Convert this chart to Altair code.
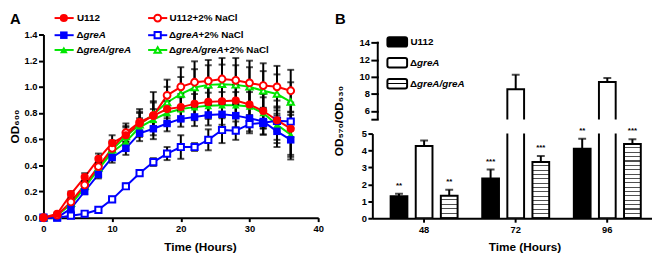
import altair as alt
import pandas as pd

FONT = "Liberation Sans"
RED, BLUE, GREEN = "#ff0000", "#0000ff", "#00e600"

# ---------------- Panel A: growth curves ----------------
hours = [0, 2, 4, 6, 8, 10, 12, 14, 16, 18, 20, 22, 24, 26, 28, 30, 32, 34, 36]

u112 = [0.00, 0.03, 0.18, 0.31, 0.45, 0.57, 0.63, 0.72, 0.78, 0.83, 0.845, 0.87, 0.885, 0.89, 0.895, 0.865, 0.815, 0.745, 0.68]
u112_err = [0.00, 0.01, 0.02, 0.03, 0.04, 0.06, 0.07, 0.09, 0.10, 0.10, 0.10, 0.11, 0.11, 0.11, 0.12, 0.12, 0.13, 0.15, 0.20]
u112_nacl = [0.00, 0.02, 0.12, 0.25, 0.39, 0.53, 0.65, 0.73, 0.78, 0.935, 1.00, 1.035, 1.045, 1.06, 1.05, 1.03, 1.01, 1.00, 0.97]
u112_nacl_err = [0.00, 0.01, 0.02, 0.03, 0.04, 0.06, 0.07, 0.10, 0.18, 0.12, 0.15, 0.16, 0.16, 0.16, 0.17, 0.17, 0.17, 0.16, 0.16]
grea = [0.00, 0.00, 0.07, 0.20, 0.33, 0.46, 0.53, 0.645, 0.68, 0.72, 0.755, 0.77, 0.785, 0.79, 0.78, 0.76, 0.735, 0.66, 0.595]
grea_err = [0.00, 0.00, 0.02, 0.02, 0.03, 0.04, 0.05, 0.06, 0.05, 0.06, 0.06, 0.07, 0.08, 0.08, 0.09, 0.10, 0.10, 0.12, 0.15]
grea_nacl = [0.00, 0.00, 0.015, 0.03, 0.06, 0.14, 0.24, 0.34, 0.425, 0.49, 0.54, 0.54, 0.595, 0.67, 0.665, 0.715, 0.725, 0.74, 0.735]
grea_nacl_err = [0.00, 0.00, 0.01, 0.01, 0.01, 0.02, 0.02, 0.02, 0.03, 0.05, 0.09, 0.03, 0.08, 0.10, 0.07, 0.07, 0.09, 0.08, 0.05]
comp = [0.00, 0.02, 0.10, 0.23, 0.37, 0.50, 0.58, 0.69, 0.75, 0.80, 0.83, 0.845, 0.855, 0.86, 0.86, 0.85, 0.80, 0.71, 0.635]
comp_err = [0.00, 0.01, 0.02, 0.03, 0.04, 0.05, 0.06, 0.07, 0.08, 0.09, 0.09, 0.10, 0.10, 0.10, 0.10, 0.11, 0.12, 0.14, 0.17]
comp_nacl = [0.00, 0.02, 0.11, 0.24, 0.38, 0.52, 0.62, 0.71, 0.79, 0.88, 0.945, 0.995, 1.015, 1.02, 1.015, 1.00, 0.97, 0.945, 0.885]
comp_nacl_err = [0.00, 0.01, 0.02, 0.03, 0.04, 0.06, 0.07, 0.09, 0.10, 0.12, 0.13, 0.14, 0.15, 0.15, 0.15, 0.15, 0.15, 0.15, 0.15]

series_a = [
    ("U112", u112, u112_err),
    ("U112+2% NaCl", u112_nacl, u112_nacl_err),
    ("ΔgreA", grea, grea_err),
    ("ΔgreA+2% NaCl", grea_nacl, grea_nacl_err),
    ("ΔgreA/greA", comp, comp_err),
    ("ΔgreA/greA+2% NaCl", comp_nacl, comp_nacl_err),
]

rows = []
for name, vals, errs in series_a:
    for t, v, e in zip(hours, vals, errs):
        rows.append({"series": name, "t": t, "od": v, "err": e, "lo": v - e, "hi": v + e})
dfA = pd.DataFrame(rows)

STYLE = {
    "U112": (RED, "circle", True),
    "U112+2% NaCl": (RED, "circle", False),
    "ΔgreA": (BLUE, "square", True),
    "ΔgreA+2% NaCl": (BLUE, "square", False),
    "ΔgreA/greA": (GREEN, "triangle-up", True),
    "ΔgreA/greA+2% NaCl": (GREEN, "triangle-up", False),
}
SIZE = {"circle": (68, 48), "square": (58, 40), "triangle-up": (62, 42)}


def point_props(name):
    color, shape, filled = STYLE[name]
    fs, osz = SIZE[shape]
    if filled:
        return dict(shape=shape, filled=True, color=color, size=fs, opacity=1)
    return dict(shape=shape, filled=True, fill="white", stroke=color,
                strokeWidth=2, size=osz, opacity=1)


WA, HA = 279, 186
xA_scale = alt.Scale(domain=[0, 40], nice=False, zero=False)
yA_scale = alt.Scale(domain=[0, 1.4], nice=False)
axis_xA = alt.Axis(values=[0, 10, 20, 30, 40], title="Time (Hours)", tickSize=4,
                   labelPadding=2, labelFlush=False,
                   titleX=159, titleY=29, titleBaseline="middle")
axis_yA = alt.Axis(values=[0, 0.2, 0.4, 0.6, 0.8, 1.0, 1.2, 1.4], format=".1f",
                   title="OD₆₀₀", titlePadding=3, tickSize=5, labelPadding=1.5,
                   labelFlush=False)


def XA(f):
    return alt.X(f, type="quantitative", scale=xA_scale, axis=axis_xA)


def YA(f):
    return alt.Y(f, type="quantitative", scale=yA_scale, axis=axis_yA)


draw_order = ["ΔgreA/greA+2% NaCl", "ΔgreA/greA", "ΔgreA+2% NaCl", "ΔgreA",
              "U112+2% NaCl", "U112"]
baseA = alt.Chart(dfA)
layersA = []
for name in draw_order:
    layersA.append(baseA.transform_filter(alt.datum.series == name)
                   .mark_line(color=STYLE[name][0], strokeWidth=2)
                   .encode(x=XA("t"), y=YA("od")))
errA = baseA.transform_filter(alt.datum.err > 0)
layersA.append(errA.mark_rule(color="black", strokeWidth=2)
               .encode(x=XA("t"), y=YA("lo"), y2="hi:Q"))
layersA.append(errA.mark_tick(orient="horizontal", size=7, thickness=2, color="black")
               .encode(x=XA("t"), y=YA("hi")))
layersA.append(errA.mark_tick(orient="horizontal", size=7, thickness=2, color="black")
               .encode(x=XA("t"), y=YA("lo")))
for name in draw_order:
    layersA.append(baseA.transform_filter(alt.datum.series == name)
                   .mark_point(**point_props(name))
                   .encode(x=XA("t"), y=YA("od")))

one = pd.DataFrame({"k": [0]})
CHARW = {"g": 0.611, "r": 0.389, "e": 0.556, "A": 0.722, "/": 0.278}
LEG_FS = 10
DELTA_W = 6.7

LABEL_PARTS = {
    "U112": [("U112", "normal")],
    "U112+2% NaCl": [("U112+2% NaCl", "normal")],
    "ΔgreA": [("Δ", "normal"), ("greA", "italic")],
    "ΔgreA+2% NaCl": [("Δ", "normal"), ("greA", "italic"), ("+2% NaCl", "normal")],
    "ΔgreA/greA": [("Δ", "normal"), ("greA/greA", "italic")],
    "ΔgreA/greA+2% NaCl": [("Δ", "normal"), ("greA/greA", "italic"), ("+2% NaCl", "normal")],
}


def label_layers(name, x0, y0):
    out = []
    cursor = x0
    for txt, style in LABEL_PARTS[name]:
        if txt == "Δ":
            cursor = x0 + DELTA_W
            out.append(alt.Chart(one).mark_text(
                align="right", baseline="middle", font=FONT, fontSize=LEG_FS,
                fontWeight="bold", fontStyle=style, color="black")
                .encode(x=alt.value(cursor), y=alt.value(y0), text=alt.value(txt)))
            continue
        out.append(alt.Chart(one).mark_text(
            align="left", baseline="middle", font=FONT, fontSize=LEG_FS,
            fontWeight="bold", fontStyle=style, color="black")
            .encode(x=alt.value(cursor), y=alt.value(y0), text=alt.value(txt)))
        cursor += sum(CHARW.get(c, 0.6) for c in txt) * LEG_FS
    return out


leg_rows = [-16.7, 0.7, 15.7]
leg_cols = [(11.3, 30.7, 20.7, 34.0), (106.3, 125.7, 116.0, 128.0)]
leg_items = [["U112", "ΔgreA", "ΔgreA/greA"],
             ["U112+2% NaCl", "ΔgreA+2% NaCl", "ΔgreA/greA+2% NaCl"]]
for ci, col in enumerate(leg_items):
    lx1, lx2, mx, tx = leg_cols[ci]
    for ri, name in enumerate(col):
        yy = leg_rows[ri]
        layersA.append(alt.Chart(one).mark_rule(color=STYLE[name][0], strokeWidth=2)
                       .encode(x=alt.value(lx1), x2=alt.value(lx2), y=alt.value(yy)))
        layersA.append(alt.Chart(one).mark_point(**point_props(name))
                       .encode(x=alt.value(mx), y=alt.value(yy)))
        layersA.extend(label_layers(name, tx, yy))

layersA.append(alt.Chart(one).mark_text(align="left", baseline="top", font=FONT,
                                         fontSize=15, fontWeight="bold", color="black")
               .encode(x=alt.value(-34), y=alt.value(-22.4), text=alt.value("A")))

panelA = alt.layer(*layersA).properties(width=WA, height=HA)

# ---------------- Panel B: biofilm bars ----------------
groups = ["48", "72", "96"]
strains = ["U112", "ΔgreA", "ΔgreA/greA"]
b_u112 = [1.30, 2.35, 4.10]
b_u112_err = [0.15, 0.53, 0.59]
b_grea = [4.27, 8.55, 9.40]
b_grea_err = [0.32, 1.68, 0.45]
b_comp = [1.33, 3.32, 4.38]
b_comp_err = [0.35, 0.36, 0.28]
stars_u112 = ["**", "***", "**"]
stars_grea = ["", "", ""]
stars_comp = ["**", "***", "***"]

rowsB = []
for s, vals, errs, st in [("U112", b_u112, b_u112_err, stars_u112),
                          ("ΔgreA", b_grea, b_grea_err, stars_grea),
                          ("ΔgreA/greA", b_comp, b_comp_err, stars_comp)]:
    for g, v, e, sx in zip(groups, vals, errs, st):
        rowsB.append({"group": g, "strain": s, "mean": v, "top": v + e, "stars": sx})
dfB = pd.DataFrame(rowsB)

WB, HB_LOW = 284, 86
UP_PAD = 8.3                      # blank pixels above the "14" tick of the upper part
UP_PX_PER_UNIT = 78 / 9.0
HB_UP = 78 + UP_PAD
UP_TOP = 14 + UP_PAD / UP_PX_PER_UNIT
PX_PER_UNIT_LOW = HB_LOW / 5.0

xB_scale = alt.Scale(domain=groups, paddingInner=0.269, paddingOuter=0.161, align=0.62)
xoB = alt.XOffset("strain:N", sort=strains,
                  scale=alt.Scale(domain=strains, paddingInner=0.333, paddingOuter=0))
axis_xB = alt.Axis(title="Time (Hours)", tickSize=4, labelPadding=2, labelAngle=0,
                   titleX=154.5, titleY=29, titleBaseline="middle")


def XB(axis):
    return alt.X("group:N", sort=groups, scale=xB_scale, axis=axis)


yLow_scale = alt.Scale(domain=[0, 5], nice=False)
axis_yLow = alt.Axis(values=[0, 1, 2, 3, 4, 5], title=None, tickSize=4.5, labelPadding=1.5,
                     labelOverlap=False)
yUp_scale = alt.Scale(domain=[5, UP_TOP], nice=False)
axis_yUp = alt.Axis(values=[5, 6, 8, 10, 12, 14], title=None, tickSize=7.5, labelPadding=1.5,
                    offset=-6, domain=False, labelOverlap=False,
                    labelExpr="datum.value == 5 ? '' : datum.label")


def YL(f):
    return alt.Y(f, type="quantitative", scale=yLow_scale, axis=axis_yLow, stack=None)


def YU(f):
    return alt.Y(f, type="quantitative", scale=yUp_scale, axis=axis_yUp, stack=None)


def stripes(h_px, period=4.4, lw=1.1):
    n = max(1, round(h_px / period))
    stops = []
    for k in range(n):
        a = k / n
        b = (k + 1) / n
        c = b - lw / h_px
        stops += [alt.GradientStop(offset=a, color="white"),
                  alt.GradientStop(offset=c, color="white"),
                  alt.GradientStop(offset=c, color="#505050"),
                  alt.GradientStop(offset=b, color="#505050")]
    return alt.LinearGradient(gradient="linear", stops=stops, x1=0, x2=0, y1=0, y2=1)


baseB = alt.Chart(dfB)
low = []
low.append(baseB.transform_filter(alt.datum.strain == "U112")
           .mark_bar(fill="black", stroke="black", strokeWidth=2, clip=True)
           .encode(x=XB(axis_xB), xOffset=xoB, y=YL("mean")))
low.append(baseB.transform_filter(alt.datum.strain == "ΔgreA")
           .mark_bar(fill="white", stroke="black", strokeWidth=2, clip=True)
           .encode(x=XB(axis_xB), xOffset=xoB, y=YL("mean")))
for g, v in zip(groups, b_comp):
    low.append(baseB.transform_filter((alt.datum.strain == "ΔgreA/greA") & (alt.datum.group == g))
               .mark_bar(fill=stripes(v * PX_PER_UNIT_LOW), stroke="black", strokeWidth=2, clip=True)
               .encode(x=XB(axis_xB), xOffset=xoB, y=YL("mean")))
low.append(baseB.mark_rule(color="black", strokeWidth=2, clip=True)
           .encode(x=XB(axis_xB), xOffset=xoB, y=YL("mean"), y2="top:Q"))
low.append(baseB.mark_tick(orient="horizontal", size=8, thickness=2, color="black", clip=True)
           .encode(x=XB(axis_xB), xOffset=xoB, y=YL("top")))
low.append(baseB.transform_filter(alt.datum.stars != "")
           .mark_text(font=FONT, fontSize=8, fontWeight="bold", color="black",
                      baseline="middle", dy=-8)
           .encode(x=XB(axis_xB), xOffset=xoB, y=YL("top"), text="stars:N"))
panelBlow = alt.layer(*low).properties(width=WB, height=HB_LOW)

up = []
gB = baseB.transform_filter((alt.datum.strain == "ΔgreA") & (alt.datum.mean > 5))
up.append(gB.mark_bar(fill="white", stroke="black", strokeWidth=2, clip=True)
          .encode(x=XB(None), xOffset=xoB, y=YU("mean"), y2=alt.datum(0)))
up.append(gB.mark_rule(color="black", strokeWidth=2, clip=True)
          .encode(x=XB(None), xOffset=xoB, y=YU("mean"), y2="top:Q"))
up.append(gB.mark_tick(orient="horizontal", size=8, thickness=2, color="black", clip=True)
          .encode(x=XB(None), xOffset=xoB, y=YU("top")))
# axis line of the upper part, running from the 5 tick up to the 14 tick
up.append(alt.Chart(one).mark_rule(color="black", strokeWidth=2)
          .encode(x=alt.value(5.5), y=alt.value(UP_PAD - 1), y2=alt.value(HB_UP)))

# legend of panel B
legB_rows = [-0.8 + UP_PAD, 20.4 + UP_PAD, 41.7 + UP_PAD]
hatch_small = alt.LinearGradient(gradient="linear", x1=0, x2=0, y1=0, y2=1, stops=[
    alt.GradientStop(offset=0, color="white"), alt.GradientStop(offset=0.42, color="white"),
    alt.GradientStop(offset=0.42, color="black"), alt.GradientStop(offset=0.58, color="black"),
    alt.GradientStop(offset=0.58, color="white"), alt.GradientStop(offset=1, color="white")])
legB_fill = ["black", "white", hatch_small]
for i, s in enumerate(strains):
    yy = legB_rows[i]
    up.append(alt.Chart(one).mark_rect(fill=legB_fill[i], stroke="black", strokeWidth=2, cornerRadius=2)
              .encode(x=alt.value(15.3), x2=alt.value(35.3), y=alt.value(yy - 4.8),
                      y2=alt.value(yy + 4.8)))
    up.extend(label_layers(s, 38.7, yy))

up.append(alt.Chart(one).mark_text(align="left", baseline="top", font=FONT,
                                    fontSize=15, fontWeight="bold", color="black")
          .encode(x=alt.value(-38), y=alt.value(-22.4), text=alt.value("B")))
up.append(alt.Chart(one).mark_text(align="center", baseline="middle", angle=270, font=FONT,
                                    fontSize=12, fontWeight="bold", color="black")
          .encode(x=alt.value(-34), y=alt.value(79.7 + UP_PAD), text=alt.value("OD₅₇₀/OD₆₃₀")))
panelBup = alt.layer(*up).properties(width=WB, height=HB_UP)

panelB = alt.vconcat(panelBup, panelBlow, spacing=13.6, bounds="flush")

chart = (alt.hconcat(panelA, panelB, spacing=9)
         .properties(padding=0)
         .configure_view(stroke=None)
         .configure_axis(domainColor="black", domainWidth=2, tickColor="black", tickWidth=2,
                         labelColor="black", labelFont=FONT, labelFontWeight="bold",
                         labelFontSize=9.5, titleFont=FONT, titleFontWeight="bold",
                         titleFontSize=12, titleColor="black", grid=False))

chart.save("out.html", embed_options={"renderer": "svg", "actions": False})
